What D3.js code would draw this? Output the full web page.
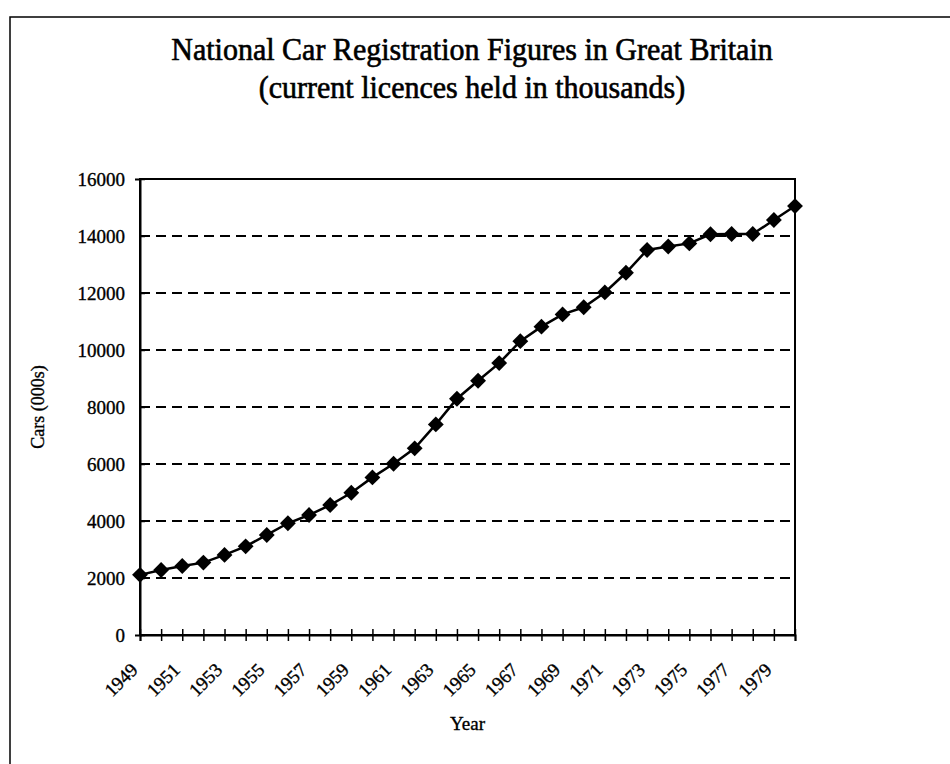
<!DOCTYPE html>
<html>
<head>
<meta charset="utf-8">
<script src="https://cdn.jsdelivr.net/npm/d3@7"></script>
<style>
  html, body { margin: 0; padding: 0; background: #fff; }
  svg { display: block; }
  text { font-family: "Liberation Serif", "Times New Roman", serif; fill: #000; stroke: #000; stroke-width: 0.35px; }
</style>
</head>
<body>
<svg id="chart" width="950" height="764"></svg>
<script>
// Current car licences held in Great Britain, thousands, 1949-1980
const years = d3.range(1949, 1981);
const cars = [
  2110, 2280, 2420, 2540, 2810, 3110, 3510, 3920, 4210, 4560,
  4990, 5530, 6010, 6550, 7390, 8290, 8920, 9540, 10310, 10820,
  11250, 11500, 12020, 12710, 13510, 13630, 13740, 14060, 14070, 14070,
  14560, 15050
];
const yTicks = [0, 2000, 4000, 6000, 8000, 10000, 12000, 14000, 16000];
const xLabelYears = d3.range(1949, 1980, 2);
const titleLines = [
  "National Car Registration Figures in Great Britain",
  "(current licences held in thousands)"
];

const svg = d3.select("#chart");
const plot = { left: 140, right: 795, top: 179, bottom: 635 };

const x = d3.scaleLinear().domain([1949, 1980]).range([plot.left, plot.right]);
const y = d3.scaleLinear().domain([0, 16000]).range([plot.bottom, plot.top]);

// outer frame
svg.append("rect")
  .attr("x", 10).attr("y", 17)
  .attr("width", 1000).attr("height", 800)
  .attr("fill", "none").attr("stroke", "#000").attr("stroke-width", 1.5);

// title
svg.append("g").selectAll("text").data(titleLines).join("text")
  .attr("transform", (d, i) => `translate(472,${60 + i * 38}) scale(1,1.08)`)
  .attr("text-anchor", "middle")
  .style("font-size", "30px")
  .style("stroke-width", "0.6px")
  .text(d => d);

// dashed gridlines
svg.append("g").selectAll("line").data(yTicks.filter(v => v > 0 && v < 16000)).join("line")
  .attr("x1", plot.left).attr("x2", plot.right)
  .attr("y1", d => y(d)).attr("y2", d => y(d))
  .attr("stroke", "#000").attr("stroke-width", 2)
  .attr("stroke-dasharray", "10,6");

// plot area border
svg.append("rect")
  .attr("x", plot.left).attr("y", plot.top)
  .attr("width", plot.right - plot.left).attr("height", plot.bottom - plot.top)
  .attr("fill", "none").attr("stroke", "#000").attr("stroke-width", 2);

// y axis with ticks crossing the axis line
const yAxis = svg.append("g")
  .attr("transform", `translate(${plot.left},0)`)
  .call(d3.axisLeft(y).tickValues(yTicks).tickSize(5).tickPadding(10).tickFormat(d3.format("d")));
yAxis.select(".domain").attr("stroke-width", 2);
yAxis.selectAll(".tick line").attr("x2", 5).attr("stroke-width", 1.5);
yAxis.selectAll(".tick text")
  .style("font-size", "19px")
  .style("font-family", "Liberation Serif")
  .attr("stroke", "#000").attr("stroke-width", 0.35);

// x axis: a tick for every year, labels every other year
const xAxis = svg.append("g")
  .attr("transform", `translate(0,${plot.bottom})`)
  .call(d3.axisBottom(x).tickValues(years).tickSize(6).tickFormat(""));
xAxis.select(".domain").attr("stroke-width", 2);
xAxis.selectAll(".tick line").attr("y1", -6).attr("stroke-width", 1.5);

svg.append("g").selectAll("text").data(xLabelYears).join("text")
  .attr("transform", d => `translate(${x(d) - 1},${plot.bottom + 36}) rotate(-45)`)
  .attr("text-anchor", "end")
  .style("font-size", "19px")
  .text(d => d);

// axis titles
svg.append("text")
  .attr("x", (plot.left + plot.right) / 2)
  .attr("y", 730)
  .attr("text-anchor", "middle")
  .style("font-size", "19px")
  .text("Year");

svg.append("text")
  .attr("transform", `translate(44,${(plot.top + plot.bottom) / 2}) rotate(-90)`)
  .attr("text-anchor", "middle")
  .style("font-size", "18px")
  .text("Cars (000s)");

// series line and diamond markers
const pts = years.map((yr, i) => [yr, cars[i]]);
svg.append("path")
  .datum(pts)
  .attr("fill", "none").attr("stroke", "#000").attr("stroke-width", 2.5)
  .attr("d", d3.line().x(d => x(d[0])).y(d => y(d[1])));

svg.append("g").selectAll("path").data(pts).join("path")
  .attr("transform", d => `translate(${x(d[0])},${y(d[1])})`)
  .attr("d", d3.symbol(d3.symbolDiamond2, 160))
  .attr("fill", "#000");
</script>
</body>
</html>
